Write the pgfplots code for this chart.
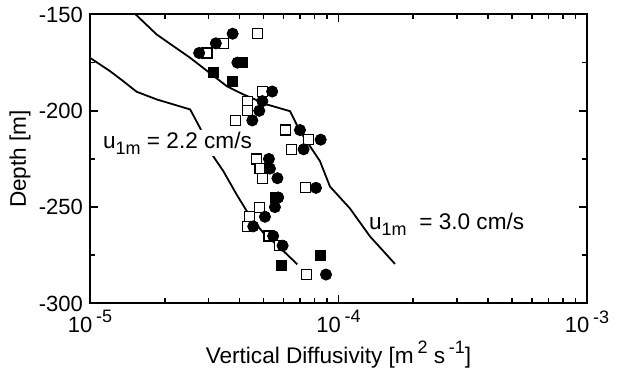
\documentclass[border=0pt]{standalone}
\usepackage{fontspec}
\setmainfont{Liberation Sans}
\usepackage{pgfplots}
\pgfplotsset{compat=1.18}
\newcommand{\sub}[1]{\raisebox{-0.45ex}{\fontsize{9}{9}\selectfont #1}}
\newcommand{\tsup}[1]{\,\raisebox{0.85ex}{\fontsize{9}{9}\selectfont #1}}
\begin{document}
\begin{tikzpicture}
\begin{axis}[
  scale only axis, width=248.5pt, height=144.5pt,
  xmode=log, xmin=1e-5, xmax=1e-3, ymin=-300, ymax=-150,
  xtick={1e-5,1e-4,1e-3},
  xticklabels={10\tsup{-5},10\tsup{-4},10\tsup{-3}},
  ytick={-300,-250,-200,-150},
  yticklabels={-300,-250,-200,-150},
  minor ytick={-275,-225,-175},
  tick align=inside,
  major tick length=4pt, minor tick length=2.5pt,
  axis line style={line width=1pt},
  tick style={black, line width=0.8pt},
  tick label style={font=\fontsize{11}{13}\selectfont},
  label style={font=\fontsize{11.3}{13}\selectfont},
  xlabel={Vertical Diffusivity [m\tsup{2} s\tsup{-1}]},
  ylabel={Depth [m]},
  xlabel style={at={(rel axis cs:0.5,0)}, anchor=center, yshift=-25.5pt},
  ylabel style={at={(rel axis cs:0,0.5)}, anchor=center, yshift=35pt},
]
% model curves
\addplot[black, line width=0.9pt] coordinates {
 (1.0e-5,-172.5) (1.203e-5,-179.4) (1.36e-5,-184.6) (1.54e-5,-190.1)
 (1.855e-5,-194.1) (2.53e-5,-199.3) (2.77e-5,-208.8) (3.13e-5,-223.5)
 (3.44e-5,-231.3) (3.89e-5,-243.4) (4.40e-5,-254.7) (4.98e-5,-263.3)
 (5.82e-5,-271.1) (6.83e-5,-279.7)};
\addplot[black, line width=0.9pt] coordinates {
 (1.527e-5,-150) (1.855e-5,-160.4) (2.53e-5,-172.5) (3.55e-5,-187.2)
 (4.14e-5,-191.5) (5.14e-5,-196.7) (6.38e-5,-200.2) (7.0e-5,-210.6)
 (8.42e-5,-226.1) (9.24e-5,-239.3) (1.112e-4,-250.7) (1.339e-4,-265.2)
 (1.688e-4,-279.5)};
% open squares
\addplot[only marks, mark=square*, mark size=2.5pt, mark options={draw=black, fill=white, line width=0.6pt}] coordinates {
 (4.73e-5,-160) (3.44e-5,-165) (2.96e-5,-170) (4.94e-5,-190) (4.30e-5,-195)
 (4.30e-5,-200) (3.86e-5,-205) (6.12e-5,-210) (7.56e-5,-215) (6.46e-5,-220)
 (4.69e-5,-225) (4.83e-5,-230) (4.94e-5,-235) (7.36e-5,-240) (4.80e-5,-250)
 (4.40e-5,-255) (4.31e-5,-260) (5.25e-5,-265) (5.78e-5,-270) (7.45e-5,-285)};
% filled squares
\addplot[only marks, mark=square*, mark size=2.5pt, mark options={draw=black, fill=black}] coordinates {
 (4.10e-5,-175) (3.15e-5,-180) (3.75e-5,-185) (5.55e-5,-245) (8.42e-5,-275) (5.91e-5,-280)};
% filled circles
\addplot[only marks, mark=*, mark size=2.8pt, mark options={draw=black, fill=black}] coordinates {
 (3.75e-5,-160) (3.21e-5,-165) (2.75e-5,-170) (3.92e-5,-175) (5.41e-5,-190)
 (4.94e-5,-195) (4.80e-5,-200) (4.50e-5,-205) (7.00e-5,-210) (8.48e-5,-215)
 (7.24e-5,-220) (5.25e-5,-225) (5.30e-5,-230) (5.68e-5,-235) (8.12e-5,-240)
 (5.72e-5,-245) (5.55e-5,-250) (5.06e-5,-255) (4.54e-5,-260) (5.46e-5,-265)
 (5.96e-5,-270) (8.91e-5,-285)};
\node[fill=white, inner sep=1pt, font=\fontsize{11.3}{13}\selectfont] at (axis cs:2.25e-5,-216.9) {u\sub{1m} = 2.2 cm/s};
\node[inner sep=1pt, font=\fontsize{11.3}{13}\selectfont] at (axis cs:2.725e-4,-259) {u\sub{1m}\ \ = 3.0 cm/s};
\end{axis}
\path (current axis.south west) ++(-45pt,-32.5pt) rectangle ++(311.5pt,182pt);
\end{tikzpicture}
\end{document}
